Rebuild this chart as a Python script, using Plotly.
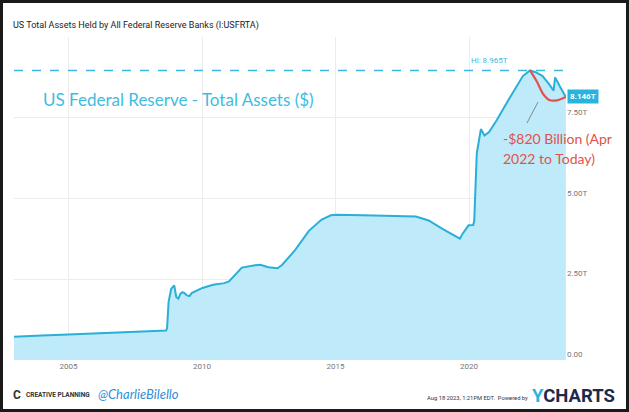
import plotly.graph_objects as go

# ---- data (US Fed total assets, trillions USD) ----
dates = [
    "2002-12-18", "2003-06-01", "2004-01-01", "2005-01-01", "2006-01-01", "2007-01-01",
    "2008-01-01", "2008-08-27", "2008-09-10", "2008-10-01", "2008-11-05", "2008-12-17",
    "2009-01-14", "2009-02-11", "2009-03-11", "2009-04-08", "2009-05-06", "2009-06-10",
    "2009-07-15", "2009-08-12", "2009-10-14", "2010-01-06", "2010-06-02", "2010-11-03",
    "2011-01-05", "2011-06-29", "2011-12-28", "2012-03-07", "2012-06-27", "2012-10-31",
    "2013-01-02", "2013-06-26", "2014-01-01", "2014-06-25", "2014-10-29", "2015-01-07",
    "2016-01-06", "2017-01-04", "2017-10-04", "2018-01-03", "2018-06-27", "2019-01-02",
    "2019-08-28", "2019-10-02", "2019-12-25", "2020-02-26", "2020-03-11", "2020-03-25",
    "2020-04-15", "2020-06-10", "2020-07-29", "2020-09-30", "2021-01-06", "2021-06-30",
    "2022-01-05", "2022-04-13", "2022-06-29", "2022-09-28", "2022-12-28", "2023-03-01",
    "2023-03-22", "2023-05-31", "2023-08-16",
]
assets = [
    0.72, 0.73, 0.76, 0.79, 0.83, 0.87,
    0.89, 0.91, 0.98, 1.80, 2.20, 2.31,
    1.95, 1.90, 2.05, 2.10, 2.07, 2.00,
    1.98, 2.07, 2.14, 2.23, 2.33, 2.38,
    2.43, 2.86, 2.93, 2.95, 2.87, 2.84,
    2.95, 3.40, 4.00, 4.35, 4.48, 4.50,
    4.48, 4.46, 4.46, 4.44, 4.32, 4.06,
    3.76, 3.90, 4.17, 4.18, 4.30, 5.30,
    6.40, 7.15, 6.95, 7.06, 7.40, 8.08,
    8.79, 8.965, 8.91, 8.80, 8.55, 8.34,
    8.75, 8.45, 8.146,
]
trend_dates = ["2022-04-13", "2022-07-15", "2022-10-15", "2023-01-01", "2023-04-15", "2023-08-16"]
trend_vals = [8.965, 8.62, 8.22, 8.05, 8.04, 8.146]

y_ticks = [0, 2.5, 5, 7.5, 10]
y_tick_text = ["0.00", "2.50T", "5.00T", "7.50T", ""]
x_ticks = ["2005-01-01", "2010-01-01", "2015-01-01", "2020-01-01"]
x_tick_text = ["2005", "2010", "2015", "2020"]
high_value = 8.965
last_value = 8.146

W, H = 629, 412
L, R, T, B = 14, 63, 37, 52
PW, PH = W - L - R, H - T - B


def px(x):
    return (x - L) / PW


def py(y):
    return (H - B - y) / PH


LINE = "#2aafd6"
FILL = "#bfeaf9"

fig = go.Figure()
fig.add_trace(go.Scatter(
    x=dates, y=assets, mode="lines", fill="tozeroy",
    line=dict(color=LINE, width=2), fillcolor=FILL, hoverinfo="skip",
))
fig.add_trace(go.Scatter(
    x=trend_dates, y=trend_vals, mode="lines", line=dict(color="#e0524a", width=2.2, shape="spline"),
    hoverinfo="skip",
))

fig.add_shape(type="line", xref="paper", yref="y", x0=0, x1=1, y0=high_value, y1=high_value,
              line=dict(color="#3cb9d8", width=1.5, dash="dash"))
# outer frame
fig.add_shape(type="rect", xref="paper", yref="paper", x0=px(1.5), x1=px(W - 1.5), y0=py(1.5), y1=py(H - 1.5),
              line=dict(color="#1a1a1a", width=3), layer="above")
# pointer line
fig.add_shape(type="line", xref="paper", yref="paper", x0=px(538), y0=py(102), x1=px(527), y1=py(123),
              line=dict(color="#888888", width=1))

ann = [
    dict(x=px(11), y=py(25), text="US Total Assets Held by All Federal Reserve Banks (I:USFRTA)",
         font=dict(family="Roboto", size=9, color="#222222"), xanchor="left"),
    dict(x=px(41), y=py(99), text="US Federal Reserve - Total Assets ($)",
         font=dict(family="Lato", size=17, color="#3dbde0"), xanchor="left"),
    dict(x=px(489), y=py(60), text="Hi: 8.965T",
         font=dict(family="Roboto", size=8, color="#3cb9d8"), xanchor="center"),
    dict(x=px(501), y=py(138), text="-$820 Billion (Apr",
         font=dict(family="Lato", size=14, color="#e0524a"), xanchor="left"),
    dict(x=px(501), y=py(158), text="2022 to Today)",
         font=dict(family="Lato", size=14, color="#e0524a"), xanchor="left"),
    dict(x=1, y=last_value, xref="paper", yref="y", text="<b>8.146T</b>", bgcolor="#2ab4dc",
         font=dict(family="Roboto", size=8, color="white"), xanchor="left", borderpad=2, xshift=1),
    dict(x=px(11), y=py(395), text="<b>C</b>",
         font=dict(family="Roboto", size=12, color="#333333"), xanchor="left"),
    dict(x=px(24), y=py(395), text="<b>CREATIVE PLANNING</b>",
         font=dict(family="Roboto", size=6.5, color="#333333"), xanchor="left"),
    dict(x=px(96), y=py(394), text="<i>@CharlieBilello</i>",
         font=dict(family="Lato", size=13, color="#2f8fd8"), xanchor="left"),
    dict(x=px(530), y=py(398), text="Aug 18 2023, 1:21PM EDT.  Powered by",
         font=dict(family="Roboto", size=5.8, color="#333333"), xanchor="right"),
    dict(x=px(530), y=py(396), text="<b><span style='color:#2ab4dc'>Y</span>CHARTS</b>",
         font=dict(family="Roboto", size=18.5, color="#1c2b4a"), xanchor="left"),
]
for a in ann:
    a.setdefault("xref", "paper")
    a.setdefault("yref", "paper")
    a.setdefault("showarrow", False)
    a.setdefault("yanchor", "middle")
    fig.add_annotation(**a)

fig.update_layout(
    width=W, height=H,
    margin=dict(l=L, r=R, t=T, b=B, autoexpand=False),
    paper_bgcolor="white", plot_bgcolor="white",
    showlegend=False,
    xaxis=dict(type="date", range=["2002-12-18", "2023-08-18"], tickvals=x_ticks, ticktext=x_tick_text,
               showgrid=True, gridcolor="#ececec", zeroline=False, showline=False, ticks="",
               automargin=False,
               tickfont=dict(family="Roboto", size=8, color="#777777")),
    yaxis=dict(range=[0, 10], side="right", tickvals=y_ticks, ticktext=y_tick_text,
               showgrid=True, gridcolor="#ececec", zeroline=False, showline=False, ticks="",
               ticklabelposition="outside top", automargin=False,
               tickfont=dict(family="Roboto", size=8, color="#777777")),
)

fig.write_html("out.html", config={"displayModeBar": False},
               post_script="document.body.style.margin='0';document.body.style.overflow='hidden';")
